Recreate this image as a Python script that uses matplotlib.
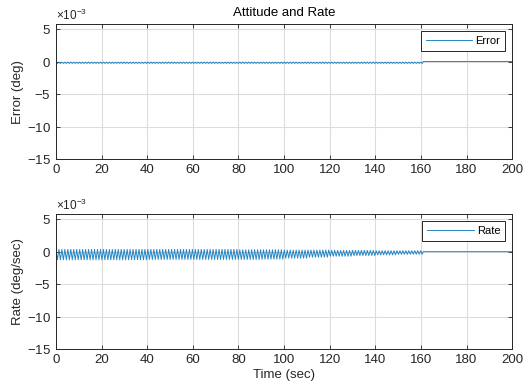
import numpy as np
import matplotlib
matplotlib.use('Agg')
import matplotlib.pyplot as plt
from matplotlib.ticker import ScalarFormatter

plt.rcParams['font.family'] = ['Liberation Sans', 'DejaVu Sans']
plt.rcParams['mathtext.fontset'] = 'custom'
plt.rcParams['mathtext.rm'] = 'Liberation Sans'
plt.rcParams['axes.unicode_minus'] = False

# data (values in deg or deg/sec)
block_start = [0, 10, 20, 30, 40, 50, 60, 70, 80, 90, 100, 110, 120, 130, 140, 150]
rate_upper = [0.35e-3, 0.35e-3, 0.35e-3, 0.35e-3, 0.35e-3, 0.35e-3, 0.35e-3, 0.35e-3,
              0.3e-3, 0.3e-3, 0.25e-3, 0.25e-3, 0.2e-3, 0.2e-3, 0.15e-3, 0.15e-3]
rate_lower = [-1.25e-3, -1.25e-3, -1.25e-3, -1.25e-3, -1.2e-3, -1.2e-3, -1.2e-3, -1.2e-3,
              -1.2e-3, -1.15e-3, -1.0e-3, -0.85e-3, -0.7e-3, -0.6e-3, -0.5e-3, -0.4e-3]
err_upper = [-0.05e-3] * 16
err_lower = [-0.25e-3] * 16
cycle_period = 1.3      # sec
settle_time = 161.0     # sec, oscillation stops here
rate_final = 0.0
err_final = 0.05e-3
t_end = 200

xticks = [0, 20, 40, 60, 80, 100, 120, 140, 160, 180, 200]
yticks = [-15e-3, -10e-3, -5e-3, 0, 5e-3]


def build_signal(upper, lower, final):
    t = np.arange(0, settle_time, cycle_period / 2)
    idx = np.searchsorted(block_start, t, side='right') - 1
    hi = np.array(upper)[idx]
    lo = np.array(lower)[idx]
    y = np.where(np.arange(len(t)) % 2 == 0, hi, lo)
    t = np.append(t, [settle_time, t_end])
    y = np.append(y, [final, final])
    return t, y


t_err, y_err = build_signal(err_upper, err_lower, err_final)
t_rate, y_rate = build_signal(rate_upper, rate_lower, rate_final)

fig = plt.figure(figsize=(5.28, 3.88), dpi=100)
ax1 = fig.add_axes([0.106, 0.589, 0.864, 0.349])
ax2 = fig.add_axes([0.106, 0.0997, 0.864, 0.349])

line_color = '#0072BD'
for ax, t, y, name, ylab in [(ax1, t_err, y_err, 'Error', 'Error (deg)'),
                             (ax2, t_rate, y_rate, 'Rate', 'Rate (deg/sec)')]:
    ax.plot(t, y, color=line_color, linewidth=0.7, alpha=0.85, label=name)
    ax.set_xlim(0, 200)
    ax.set_ylim(-15e-3, 5.8e-3)
    ax.set_xticks(xticks)
    ax.set_yticks(yticks)
    fmt = ScalarFormatter(useMathText=True)
    fmt.set_powerlimits((-3, -3))
    ax.yaxis.set_major_formatter(fmt)
    ax.yaxis.get_offset_text().set_fontsize(8.5)
    ax.yaxis.get_offset_text().set_color('#404040')
    ax.grid(True, color='#dcdcdc', linewidth=0.8)
    ax.set_axisbelow(True)
    ax.tick_params(direction='in', top=True, right=True, labelsize=9.5,
                   length=3, width=0.6, colors='#262626')
    for sp in ax.spines.values():
        sp.set_linewidth(0.7)
        sp.set_color('#262626')
    ax.set_ylabel(ylab, fontsize=9.5, color='#262626', labelpad=2)
    leg = ax.legend(loc='upper right', fontsize=8, handlelength=4.2,
                    fancybox=False, framealpha=1, borderpad=0.45,
                    handletextpad=0.3, borderaxespad=0.6)
    leg.get_frame().set_edgecolor('#262626')
    leg.get_frame().set_linewidth(0.7)

ax1.set_title('Attitude and Rate', fontsize=9.5, pad=6)
ax2.set_xlabel('Time (sec)', fontsize=9.5, color='#262626', labelpad=2)

fig.savefig('out.png', dpi=100)
